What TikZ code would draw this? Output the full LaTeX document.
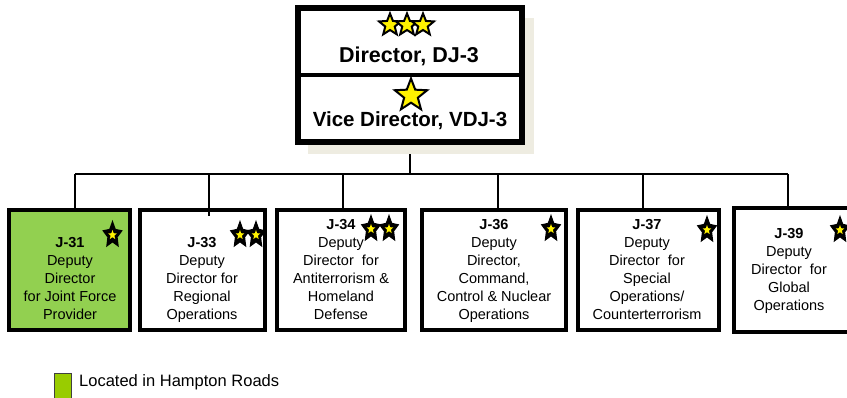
\documentclass[tikz,border=0pt]{standalone}
\usepackage{fontspec}
\setmainfont{Liberation Sans}
\usetikzlibrary{calc}
\definecolor{jgreen}{HTML}{92D050}
\definecolor{lgreen}{HTML}{99CC00}
\definecolor{shadowc}{HTML}{EEECE1}
\newcommand\mystarpath[2]{(270:#1) -- (306:#2) -- (342:#1) -- (18:#2) -- (54:#1) -- (90:#2) -- (126:#1) -- (162:#2) -- (198:#1) -- (234:#2) -- cycle}
\tikzset{
  box/.style={draw, line width=4pt, inner sep=0pt, rectangle},
  conn/.style={line width=2pt},
  lbl/.style={align=center, inner sep=0pt, anchor=north, font=\fontsize{14.5}{18}\selectfont},
  toplbl/.style={anchor=base, inner sep=0pt},
  topstar/.pic={\filldraw[fill=yellow, draw=black, line width=2pt, line join=miter] \mystarpath{11.5}{5};},
  bigstar/.pic={\filldraw[fill=yellow, draw=black, line width=2pt, line join=miter] \mystarpath{17}{7.2};},
  boxstar/.pic={\fill[black, xscale=0.72] \mystarpath{15}{7.5};
                \fill[yellow, xscale=0.9] \mystarpath{5}{2.2};}
}
\begin{document}
\begin{tikzpicture}[x=1pt,y=-1pt]
\clip (0,0) rectangle (847,398);
\fill[white] (0,0) rectangle (847,398);

% connector points
\coordinate (bus) at (410,174);
\coordinate (d31) at (75,174);
\coordinate (d33) at (209,174);
\coordinate (d34) at (343,174);
\coordinate (d36) at (498,174);
\coordinate (d37) at (643,174);
\coordinate (d39) at (788,174);

% top boxes with shadow
\node[box, minimum width=222pt, minimum height=66pt] (dj3) at (410,42) {};
\node[box, minimum width=222pt, minimum height=66pt] (vdj3) at (410,108) {};
\draw[conn] (vdj3.south) -- (bus);
\fill[shadowc] (308,18) rectangle (534,154);
\node[box, fill=white, minimum width=222pt, minimum height=66pt] (dj3) at (410,42) {};
\node[box, fill=white, minimum width=222pt, minimum height=66pt] (vdj3) at (410,108) {};
\draw[line width=4pt] (dj3.north west) rectangle (vdj3.south east);

% boxes
\node[box, fill=jgreen, minimum width=121pt, minimum height=120pt] (j31) at (69.5,270) {};
\node[box, minimum width=125pt, minimum height=120pt] (j33) at (202.5,270) {};
\node[box, minimum width=128pt, minimum height=120pt] (j34) at (341,270) {};
\node[box, minimum width=144pt, minimum height=120pt] (j36) at (494,270) {};
\node[box, minimum width=141pt, minimum height=120pt] (j37) at (648.5,270) {};
\node[box, minimum width=156pt, minimum height=124pt] (j39) at (812,270) {};

\draw[conn] (d31) -- (d39);
\draw[conn] (d31) -- (d31 |- j31.north);
\draw[conn] (d33) -- ($(d33 |- j33.north)+(0,8)$);
\draw[conn] (d34) -- (d34 |- j34.north);
\draw[conn] (d36) -- (d36 |- j36.north);
\draw[conn] (d37) -- (d37 |- j37.north);
\draw[conn] (d39) -- (d39 |- j39.north);

% top texts and stars
\node[toplbl, font=\bfseries\fontsize{21.5}{24}\selectfont] (t1) at (409,63) {Director, DJ-3};
\node[toplbl, font=\bfseries\fontsize{20.5}{24}\selectfont] (t2) at (410,127) {Vice Director, VDJ-3};
\pic at (390,25) {topstar};
\pic at (407,25) {topstar};
\pic at (423,25) {topstar};
\pic at (411,95.5) {bigstar};

% box texts
\node[lbl] (l31) at (70,237) {\textbf{J-31}\\Deputy\\Director\\for Joint Force\\Provider};
\node[lbl] (l33) at (202,237) {\textbf{J-33}\\Deputy\\Director for\\Regional\\Operations};
\node[lbl] (l34) at (341,219) {\textbf{J-34}\\Deputy\\Director~~for\\Antiterrorism \&\\Homeland\\Defense};
\node[lbl] (l36) at (494,219) {\textbf{J-36}\\Deputy\\Director,\\Command,\\Control \& Nuclear\\Operations};
\node[lbl] (l37) at (647,219) {\textbf{J-37}\\Deputy\\Director~~for\\Special\\Operations/\\Counterterrorism};
\node[lbl] (l39) at (789,228) {\textbf{J-39}\\Deputy\\Director~~for\\Global\\Operations};

% box stars
\pic at (112.5,235) {boxstar};
\pic at (240,235) {boxstar};
\pic at (256,235) {boxstar};
\pic at (371,229) {boxstar};
\pic at (389,229) {boxstar};
\pic at (551,229) {boxstar};
\pic at (707,230) {boxstar};
\pic at (840,230) {boxstar};

% legend
\node[draw=black!75, fill=lgreen, line width=1pt, minimum width=17pt, minimum height=28pt, inner sep=0pt, anchor=north west] (leg) at (53.5,373.5) {};
\node[anchor=base west, inner sep=0pt, font=\fontsize{16.5}{20}\selectfont] (legt) at (79,387) {Located in Hampton Roads};
\end{tikzpicture}
\end{document}
